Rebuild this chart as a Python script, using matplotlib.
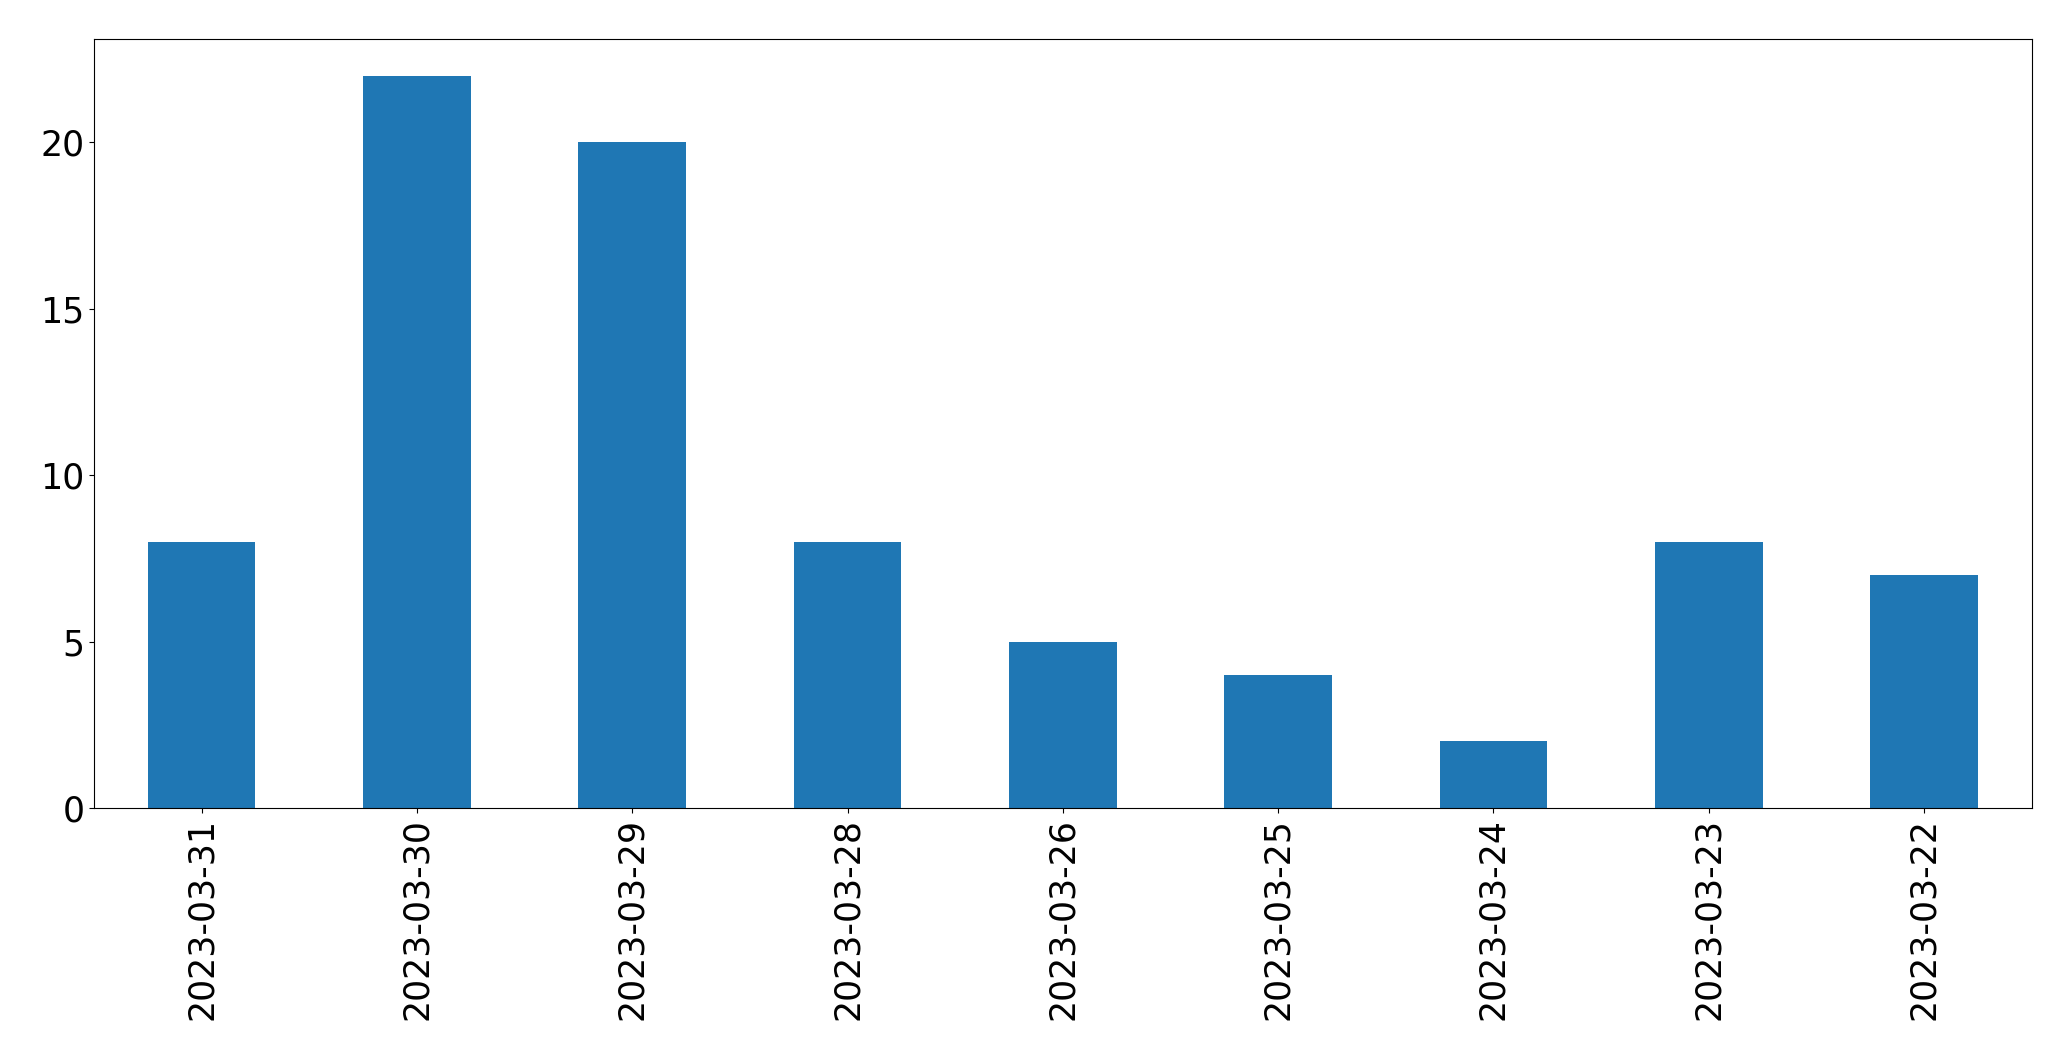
import matplotlib
matplotlib.use("Agg")
import matplotlib.pyplot as plt
import numpy as np

dates = ["2023-03-31", "2023-03-30", "2023-03-29", "2023-03-28", "2023-03-26",
         "2023-03-25", "2023-03-24", "2023-03-23", "2023-03-22"]
counts = [8, 22, 20, 8, 5, 4, 2, 8, 7]

fig = plt.figure(figsize=(20.71, 10.61), dpi=100)
ax = fig.add_axes([0.0454, 0.2385, 0.9356, 0.7245])
x = np.arange(len(dates))
ax.bar(x, counts, width=0.5, color="#1f77b4")
ax.set_xlim(-0.5, len(dates) - 0.5)
ax.set_xticks(x)
ax.set_xticklabels(dates, rotation=90, fontsize=25)
ax.set_yticks([0, 5, 10, 15, 20])
ax.tick_params(axis="y", labelsize=25)
ax.set_ylim(0, 23.1)
fig.savefig("out.png", dpi=100)
